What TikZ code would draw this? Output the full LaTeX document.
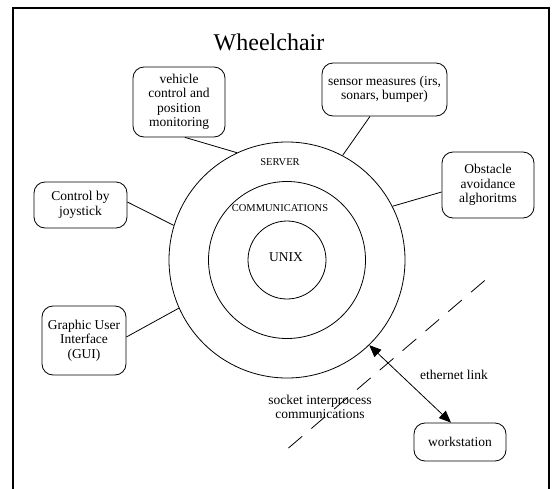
\documentclass[tikz,border=0pt]{standalone}
\usepackage{fontspec}
\setmainfont{Liberation Serif}
\usetikzlibrary{arrows.meta}
\begin{document}
\begin{tikzpicture}[x=1pt,y=-1pt,
  box/.style={draw,rounded corners=11pt,align=center,inner sep=0pt,line width=0.8pt,
    font=\fontsize{13.5}{14.5}\selectfont},
  ring/.style={draw,circle,inner sep=0pt,line width=0.8pt},
  lbl/.style={align=center,font=\fontsize{13.5}{14.5}\selectfont},
  small/.style={font=\fontsize{10.5}{12}\selectfont},
  conn/.style={line width=0.8pt}]
\useasboundingbox (0,0) rectangle (555,488);
\draw[line width=1.5pt] (13,490) -- (13,8) -- (549,8) -- (549,490);
\node[font=\fontsize{24}{28}\selectfont] (title) at (269,42) {Wheelchair};
\node[ring,minimum size=236pt] (outer) at (287,260) {};
\node[ring,minimum size=157pt] (middle) at (287,260) {};
\node[ring,minimum size=78pt] (inner) at (287,260) {};
\node[small] (server) at (280,162) {SERVER};
\node[small] (comm) at (280,208) {COMMUNICATIONS};
\node[lbl] (unix) at (286,257) {UNIX};
\node[box,minimum width=92pt,minimum height=70pt] (veh) at (179,102) {vehicle\\control and\\position\\monitoring};
\node[box,minimum width=125pt,minimum height=53pt] (sen) at (384.5,89.5) {sensor measures (irs,\\sonars, bumper)};
\node[box,minimum width=92pt,minimum height=66pt] (obs) at (488,185) {Obstacle\\avoidance\\alghoritms};
\node[box,minimum width=93pt,minimum height=46pt] (joy) at (80.5,205) {Control by\\joystick};
\node[box,minimum width=84pt,minimum height=69pt] (gui) at (84,340.5) {Graphic User\\Interface\\(GUI)};
\node[box,minimum width=92pt,minimum height=38pt] (ws) at (460,442) {workstation};
\node[lbl] (eth) at (454,375) {ethernet link};
\node[lbl] (sock) at (320,407) {socket interprocess\\communications};
\draw[conn] ([xshift=6pt]veh.south) -- (outer.115);
\draw[conn] ([xshift=-14.5pt]sen.south) -- (outer.62);
\draw[conn] ([yshift=-7pt]obs.west) -- (outer.27);
\draw[conn] ([yshift=3pt]joy.east) -- (outer.163);
\draw[conn] ([yshift=3.5pt]gui.east) -- (outer.204);
\draw[conn,{Triangle[length=12pt,width=10pt]}-{Triangle[length=12pt,width=10pt]}] (outer.-46) -- ([xshift=-9pt]ws.north);
\coordinate (d1) at (288.5,448);
\coordinate (d2) at (490,276);
\draw[conn,dash pattern=on 18pt off 12pt] (d1) -- (d2);
\end{tikzpicture}
\end{document}
